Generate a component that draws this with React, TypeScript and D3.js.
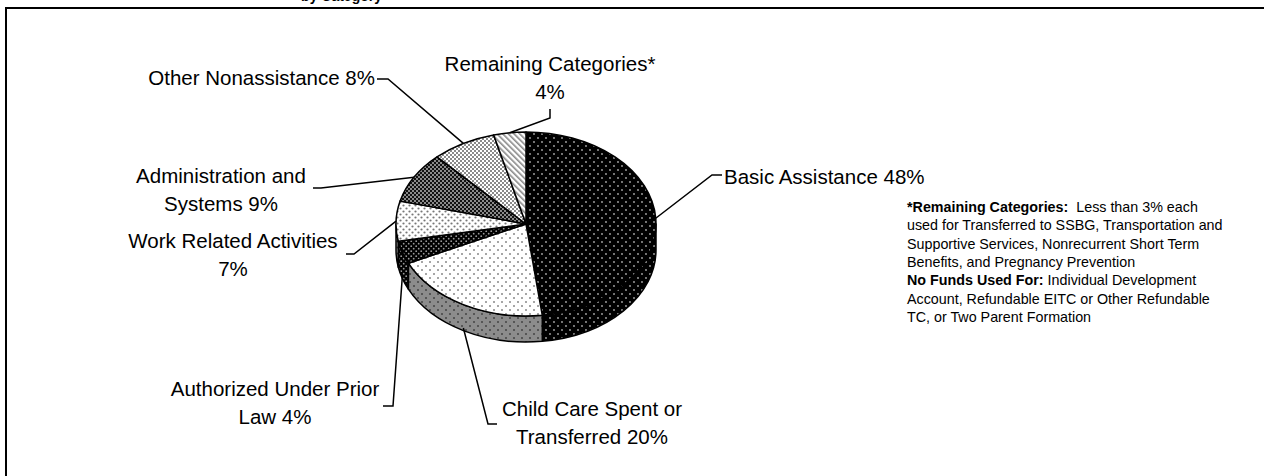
import * as d3 from 'd3'

const categories = [
  'Basic Assistance',
  'Child Care Spent or Transferred',
  'Authorized Under Prior Law',
  'Work Related Activities',
  'Administration and Systems',
  'Other Nonassistance',
  'Remaining Categories*',
]
const shares = [48, 20, 4, 7, 9, 8, 4]
// label text, {p} gets the share
const labelLines = [
  ['Basic Assistance {p}'],
  ['Child Care Spent or', 'Transferred {p}'],
  ['Authorized Under Prior', 'Law {p}'],
  ['Work Related Activities', '{p}'],
  ['Administration and', 'Systems {p}'],
  ['Other Nonassistance {p}'],
  ['Remaining Categories*', '{p}'],
]
const noteLines: [string, string][] = [
  ['*Remaining Categories:', '  Less than 3% each'],
  ['', 'used for Transferred to SSBG, Transportation and'],
  ['', 'Supportive Services, Nonrecurrent Short Term'],
  ['', 'Benefits, and Pregnancy Prevention'],
  ['No Funds Used For:', ' Individual Development'],
  ['', 'Account, Refundable EITC or Other Refundable'],
  ['', 'TC, or Two Parent Formation'],
]

const W = 1264
const H = 476
const cx = 526
const cy = 224
const rx = 130
const ry = 92
const depth = 26
const font = '"Liberation Sans", Arial, sans-serif'

const topFill = ['url(#pBasic)', 'url(#pChild)', 'url(#pPrior)', 'url(#pWork)', 'url(#pAdmin)', 'url(#pOther)', 'url(#pRest)']
const sideFill = ['url(#pBasic)', 'url(#pChildSide)', 'url(#pPrior)', 'url(#pWorkSide)', 'url(#pAdmin)', 'url(#pOther)', 'url(#pRest)']

// label layout: text position, anchor, leader knee points, and how far down the side the leader ends
const labelLayout = [
  { x: 724, y: 184, anchor: 'start', knee: [[722, 175], [712, 175]], side: 0 },
  { x: 592, y: 416, anchor: 'middle', knee: [[497, 424], [488, 424]], side: 0.9 },
  { x: 275, y: 396, anchor: 'middle', knee: [[383, 406], [393, 406]], side: 0.9 },
  { x: 233, y: 248, anchor: 'middle', knee: [[346, 254], [354, 254]], side: 0 },
  { x: 221, y: 183, anchor: 'middle', knee: [[313, 188], [321, 188]], side: 0 },
  { x: 375, y: 85, anchor: 'end', knee: [[377, 79], [388, 79]], side: 0 },
  { x: 550, y: 71, anchor: 'middle', knee: [[550, 109], [550, 118]], side: 0 },
]

const pt = (a: number, dy = 0): [number, number] => [cx + rx * Math.sin(a), cy - ry * Math.cos(a) + dy]

function topPath(a0: number, a1: number) {
  const [x0, y0] = pt(a0)
  const [x1, y1] = pt(a1)
  const large = a1 - a0 > Math.PI ? 1 : 0
  return `M${cx},${cy}L${x0},${y0}A${rx},${ry} 0 ${large} 1 ${x1},${y1}Z`
}

function sidePath(a0: number, a1: number) {
  const s = Math.max(a0, Math.PI / 2)
  const e = Math.min(a1, (3 * Math.PI) / 2)
  if (s >= e) return null
  const [x0, y0] = pt(s)
  const [x1, y1] = pt(e)
  const [x2, y2] = pt(e, depth)
  const [x3, y3] = pt(s, depth)
  return `M${x0},${y0}A${rx},${ry} 0 0 1 ${x1},${y1}L${x2},${y2}A${rx},${ry} 0 0 0 ${x3},${y3}Z`
}

export default function App() {
  const arcs = d3.pie<number>().sort(null).startAngle(0).endAngle(2 * Math.PI)(shares)
  const line = d3.line()

  return (
    <svg width={W} height={H} style={{ position: 'absolute', left: 0, top: 0, display: 'block', background: '#fff' }}>
      <defs>
        <pattern id="pBasic" width="8" height="8" patternUnits="userSpaceOnUse">
          <rect width="8" height="8" fill="#000" />
          <circle cx="2" cy="2" r="0.9" fill="#aaa" />
          <circle cx="6" cy="6" r="0.9" fill="#aaa" />
        </pattern>
        <pattern id="pChild" width="8" height="8" patternUnits="userSpaceOnUse">
          <rect width="8" height="8" fill="#fff" />
          <circle cx="2" cy="2" r="1" fill="#888" />
          <circle cx="6" cy="6" r="1" fill="#888" />
        </pattern>
        <pattern id="pChildSide" width="8" height="8" patternUnits="userSpaceOnUse">
          <rect width="8" height="8" fill="#8c8c8c" />
          <circle cx="2" cy="2" r="1" fill="#444" />
          <circle cx="6" cy="6" r="1" fill="#444" />
        </pattern>
        <pattern id="pPrior" width="5" height="5" patternUnits="userSpaceOnUse">
          <rect width="5" height="5" fill="#000" />
          <circle cx="1.2" cy="1.2" r="0.9" fill="#999" />
          <circle cx="3.7" cy="3.7" r="0.9" fill="#999" />
        </pattern>
        <pattern id="pWork" width="6" height="6" patternUnits="userSpaceOnUse">
          <rect width="6" height="6" fill="#fff" />
          <circle cx="1.5" cy="1.5" r="1.1" fill="#777" />
          <circle cx="4.5" cy="4.5" r="1.1" fill="#777" />
        </pattern>
        <pattern id="pWorkSide" width="6" height="6" patternUnits="userSpaceOnUse">
          <rect width="6" height="6" fill="#999" />
          <circle cx="1.5" cy="1.5" r="1.1" fill="#333" />
          <circle cx="4.5" cy="4.5" r="1.1" fill="#333" />
        </pattern>
        <pattern id="pAdmin" width="4" height="4" patternUnits="userSpaceOnUse">
          <rect width="4" height="4" fill="#8a8a8a" />
          <rect width="2" height="2" fill="#111" />
          <rect x="2" y="2" width="2" height="2" fill="#111" />
        </pattern>
        <pattern id="pOther" width="4" height="4" patternUnits="userSpaceOnUse">
          <rect width="4" height="4" fill="#fff" />
          <rect width="2" height="2" fill="#8a8a8a" />
          <rect x="2" y="2" width="2" height="2" fill="#8a8a8a" />
        </pattern>
        <pattern id="pRest" width="4" height="4" patternUnits="userSpaceOnUse" patternTransform="rotate(-45)">
          <rect width="4" height="4" fill="#fff" />
          <rect width="1.6" height="4" fill="#888" />
        </pattern>
      </defs>

      {/* frame, runs off the right and bottom */}
      <path d={`M6,${H + 10}V8H${W + 10}`} fill="none" stroke="#000" strokeWidth={2} />

      {/* title, mostly cut off at the top */}
      <text x={382} y={0.5} textAnchor="end" fontFamily={font} fontSize={14} fontWeight="bold">
        by Category
      </text>

      <g stroke="#000" strokeWidth={1.5} strokeLinejoin="round">
        {arcs.map((a, i) => {
          const d = sidePath(a.startAngle, a.endAngle)
          return d ? <path key={'s' + i} d={d} fill={sideFill[i]} /> : null
        })}
        {arcs.map((a, i) => (
          <path key={'t' + i} d={topPath(a.startAngle, a.endAngle)} fill={topFill[i]}>
            <title>{`${categories[i]} ${shares[i]}%`}</title>
          </path>
        ))}
      </g>

      <g fill="none" stroke="#000" strokeWidth={1.5}>
        {arcs.map((a, i) => {
          const L = labelLayout[i]
          const mid = (a.startAngle + a.endAngle) / 2
          const end = pt(mid, depth * L.side)
          const pts = [...(L.knee as [number, number][]), end]
          return <path key={'l' + i} d={line(pts) ?? ''} />
        })}
      </g>

      <g fontFamily={font} fontSize={20.5} fill="#000">
        {labelLines.map((lines, i) => {
          const L = labelLayout[i]
          return (
            <text key={'t' + i} x={L.x} y={L.y} textAnchor={L.anchor as any}>
              {lines.map((s, j) => (
                <tspan key={j} x={L.x} dy={j === 0 ? 0 : 28}>
                  {s.replace('{p}', `${shares[i]}%`)}
                </tspan>
              ))}
            </text>
          )
        })}
      </g>

      <g fontFamily={font} fontSize={14.3} fill="#000">
        {noteLines.map(([b, r], i) => (
          <text key={'n' + i} x={907} y={212 + i * 18.3}>
            {b && <tspan fontWeight="bold">{b}</tspan>}
            <tspan style={{ whiteSpace: 'pre' }}>{r}</tspan>
          </text>
        ))}
      </g>
    </svg>
  )
}
